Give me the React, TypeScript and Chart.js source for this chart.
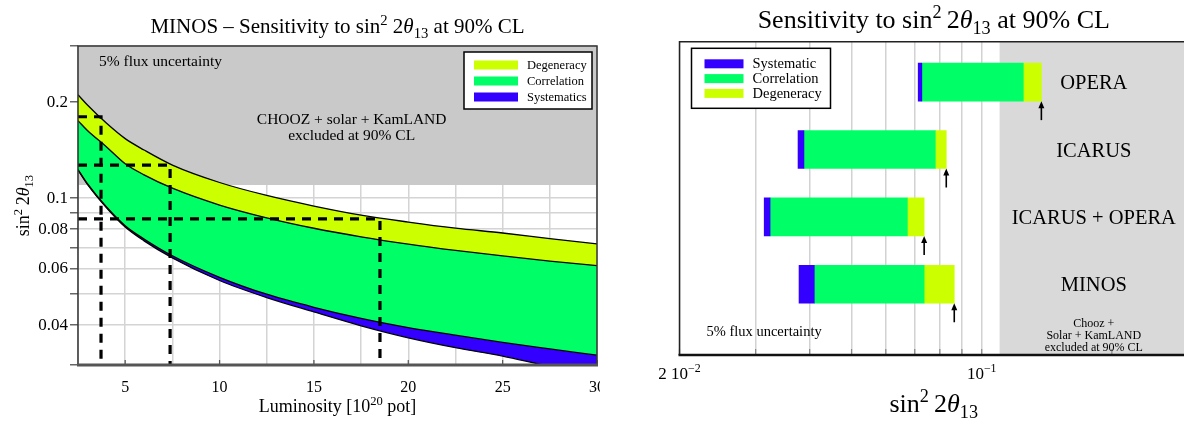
import React, { useEffect, useRef } from 'react';
import { Chart, registerables } from 'chart.js';

Chart.register(...registerables);

const SERIF = "'Liberation Serif', 'Times New Roman', 'DejaVu Serif', serif";

const COLOR_SYST = '#3300ff';
const COLOR_CORR = '#00ff66';
const COLOR_DEGEN = '#ccff00';

// ---------------- Left panel: MINOS sensitivity vs luminosity ----------------
const LUMINOSITY = [2.5, 3, 4, 5, 6, 7.5, 10, 12.5, 15, 17.5, 20, 22.5, 25, 27.5, 30];
const SYSTEMATICS_LOWER = [0.1225, 0.1105, 0.0935, 0.0812, 0.0735, 0.065, 0.0552, 0.0488, 0.044, 0.0398, 0.0365, 0.034, 0.032, 0.0297, 0.028];
const SYSTEMATICS_UPPER = [0.123, 0.111, 0.094, 0.082, 0.0745, 0.066, 0.0565, 0.05, 0.0455, 0.042, 0.0393, 0.0372, 0.0353, 0.0337, 0.0322];
const CORRELATION_UPPER = [0.175, 0.163, 0.145, 0.1282, 0.1184, 0.1075, 0.0952, 0.0868, 0.0805, 0.0757, 0.0718, 0.0686, 0.0659, 0.0635, 0.0615];
const DEGENERACY_UPPER = [0.211, 0.196, 0.172, 0.1537, 0.1416, 0.127, 0.112, 0.102, 0.0945, 0.0885, 0.0842, 0.0806, 0.0778, 0.0747, 0.0719];

const LUMI_MIN = 2.5;
const LUMI_MAX = 30;
const SENS_MIN = 0.03;
const SENS_MAX = 0.3;
const CHOOZ_LIMIT = 0.11;
const DASHED_LUMINOSITY = [3.72, 7.38, 18.5];
const DASHED_SENSITIVITY = [0.18, 0.127, 0.0861];

const LEFT_X_TICKS = [2.5, 5, 7.5, 10, 12.5, 15, 17.5, 20, 22.5, 25, 27.5, 30];
const LEFT_X_TICK_LABELS = ['', '5', '', '10', '', '15', '', '20', '', '25', '', '30'];
const LEFT_Y_TICKS = [0.03, 0.04, 0.05, 0.06, 0.07, 0.08, 0.09, 0.1, 0.2, 0.3];
const LEFT_Y_TICK_LABELS = ['', '0.04', '', '0.06', '', '0.08', '', '0.1', '0.2', ''];
const LEFT_LEGEND_LABELS = ['Degeneracy', 'Correlation', 'Systematics'];
const LEFT_LEGEND_COLORS = [COLOR_DEGEN, COLOR_CORR, COLOR_SYST];

// ---------------- Right panel: experiments comparison ----------------
const EXPERIMENTS = ['OPERA', 'ICARUS', 'ICARUS + OPERA', 'MINOS'];
const SYSTEMATIC_START = [0.0713, 0.0376, 0.0314, 0.0378];
const CORRELATION_START = [0.0727, 0.0388, 0.0324, 0.041];
const DEGENERACY_START = [0.1248, 0.0781, 0.0673, 0.0736];
const DEGENERACY_END = [0.1374, 0.0828, 0.0736, 0.0864];
const RIGHT_X_MIN = 0.02;
const RIGHT_X_MAX = 0.3;
const RIGHT_X_TICKS = [0.02, 0.03, 0.04, 0.05, 0.06, 0.07, 0.08, 0.09, 0.1, 0.2, 0.3];
const RIGHT_X_LABEL_VALUES = [0.02, 0.1];
const RIGHT_X_LABEL_MANTISSA = ['2 10', '10'];
const RIGHT_X_LABEL_EXPONENT = ['\u22122', '\u22121'];
const RIGHT_LEGEND_LABELS = ['Systematic', 'Correlation', 'Degeneracy'];
const RIGHT_LEGEND_COLORS = [COLOR_SYST, COLOR_CORR, COLOR_DEGEN];
const ROW_AXIS_MIN = 0.4;
const ROW_AXIS_MAX = 5.05;
const BAR_THICKNESS = 38;

// ---------------- rich text helper ----------------
type Seg = { t: string; s?: 'sup' | 'sub'; i?: boolean };

const LEFT_TITLE: Seg[] = [
  { t: 'MINOS \u2013 Sensitivity to sin' }, { t: '2', s: 'sup' }, { t: ' 2' }, { t: '\u03b8', i: true }, { t: '13', s: 'sub' }, { t: ' at 90% CL' },
];
const RIGHT_TITLE: Seg[] = [
  { t: 'Sensitivity to sin' }, { t: '2', s: 'sup' }, { t: '\u20092' }, { t: '\u03b8', i: true }, { t: '13', s: 'sub' }, { t: ' at 90% CL' },
];
const LEFT_X_TITLE: Seg[] = [{ t: 'Luminosity [10' }, { t: '20', s: 'sup' }, { t: ' pot]' }];
const SIN2_TITLE: Seg[] = [{ t: 'sin' }, { t: '2', s: 'sup' }, { t: '\u20092' }, { t: '\u03b8', i: true }, { t: '13', s: 'sub' }];

function drawRich(ctx: CanvasRenderingContext2D, segs: Seg[], x: number, y: number, size: number, align: 'left' | 'center' | 'right') {
  ctx.save();
  ctx.textBaseline = 'alphabetic';
  ctx.textAlign = 'left';
  ctx.fillStyle = '#000';
  const fontFor = (s: Seg) => `${s.i ? 'italic ' : ''}${s.s ? size * 0.7 : size}px ${SERIF}`;
  let total = 0;
  for (const s of segs) {
    ctx.font = fontFor(s);
    total += ctx.measureText(s.t).width;
  }
  let cx = align === 'center' ? x - total / 2 : align === 'right' ? x - total : x;
  for (const s of segs) {
    ctx.font = fontFor(s);
    const dy = s.s === 'sup' ? -size * 0.4 : s.s === 'sub' ? size * 0.22 : 0;
    ctx.fillText(s.t, cx, y + dy);
    cx += ctx.measureText(s.t).width;
  }
  ctx.restore();
}

function drawLegend(
  ctx: CanvasRenderingContext2D, left: number, top: number, w: number, h: number,
  labels: string[], colors: string[], swOff: number, swW: number, swH: number,
  firstCenter: number, step: number, textOff: number, fontSize: number,
) {
  ctx.save();
  ctx.fillStyle = '#fff';
  ctx.fillRect(left, top, w, h);
  ctx.strokeStyle = '#000';
  ctx.lineWidth = 1.5;
  ctx.strokeRect(left, top, w, h);
  ctx.font = `${fontSize}px ${SERIF}`;
  ctx.textBaseline = 'middle';
  ctx.textAlign = 'left';
  labels.forEach((lab, i) => {
    const cy = top + firstCenter + i * step;
    ctx.fillStyle = colors[i];
    ctx.fillRect(left + swOff, cy - swH / 2, swW, swH);
    ctx.fillStyle = '#000';
    ctx.fillText(lab, left + textOff, cy + 0.5);
  });
  ctx.restore();
}

function curve(values: number[]) {
  return LUMINOSITY.map((x, i) => ({ x, y: values[i] }));
}

function leftConfig(): any {
  const lineBase = { borderColor: '#000', borderWidth: 1.3, pointRadius: 0, cubicInterpolationMode: 'monotone', order: 0 };
  const leftDecor = {
    id: 'leftDecor',
    beforeDatasetsDraw(chart: any) {
      const { ctx, chartArea: a, scales } = chart;
      const yc = scales.y.getPixelForValue(CHOOZ_LIMIT);
      ctx.save();
      ctx.fillStyle = '#c9c9c9';
      ctx.fillRect(a.left, a.top, a.right - a.left, yc - a.top);
      ctx.restore();
    },
    afterDraw(chart: any) {
      const { ctx, chartArea: a, scales } = chart;
      ctx.save();
      // inner tick marks on the x axis
      ctx.strokeStyle = '#555';
      ctx.lineWidth = 1.2;
      LEFT_X_TICKS.forEach((v, i) => {
        if (!LEFT_X_TICK_LABELS[i]) return;
        const px = scales.x.getPixelForValue(v);
        ctx.beginPath();
        ctx.moveTo(px, a.bottom);
        ctx.lineTo(px, a.bottom - 5);
        ctx.stroke();
      });
      // frame
      ctx.strokeStyle = '#333';
      ctx.lineWidth = 1.5;
      ctx.strokeRect(a.left, a.top, a.right - a.left, a.bottom - a.top);
      ctx.strokeStyle = '#555';
      ctx.lineWidth = 3;
      ctx.beginPath();
      ctx.moveTo(a.left - 1, a.bottom);
      ctx.lineTo(a.right + 1, a.bottom);
      ctx.stroke();
      // texts in gray region
      ctx.fillStyle = '#000';
      ctx.textBaseline = 'alphabetic';
      ctx.font = `15.5px ${SERIF}`;
      ctx.textAlign = 'left';
      ctx.fillText('5% flux uncertainty', a.left + 21, a.top + 20);
      ctx.textAlign = 'center';
      const cx = scales.x.getPixelForValue(17.0);
      ctx.fillText('CHOOZ + solar + KamLAND', cx, a.top + 77.5);
      ctx.fillText('excluded at 90% CL', cx, a.top + 93.5);
      ctx.restore();
      drawLegend(ctx, a.right - 133, a.top + 6, 128, 57, LEFT_LEGEND_LABELS, LEFT_LEGEND_COLORS, 10, 44, 9, 13, 16, 63, 12.5);
      const mid = (a.left + a.right) / 2;
      drawRich(ctx, LEFT_TITLE, mid, 33, 21, 'center');
      drawRich(ctx, LEFT_X_TITLE, mid, 412, 18, 'center');
      ctx.save();
      ctx.translate(29, (a.top + a.bottom) / 2);
      ctx.rotate(-Math.PI / 2);
      drawRich(ctx, SIN2_TITLE, 0, 0, 18, 'center');
      ctx.restore();
    },
  };
  return {
    type: 'line',
    data: {
      datasets: [
        { label: 'Systematics lower', data: curve(SYSTEMATICS_LOWER), fill: false, ...lineBase },
        { label: 'Systematics', data: curve(SYSTEMATICS_UPPER), fill: '-1', backgroundColor: COLOR_SYST, ...lineBase },
        { label: 'Correlation', data: curve(CORRELATION_UPPER), fill: '-1', backgroundColor: COLOR_CORR, ...lineBase },
        { label: 'Degeneracy', data: curve(DEGENERACY_UPPER), fill: '-1', backgroundColor: COLOR_DEGEN, ...lineBase },
        ...DASHED_LUMINOSITY.map((L, k) => ({
          label: 'dashed' + k,
          data: [
            { x: LUMI_MIN, y: DASHED_SENSITIVITY[k] },
            { x: L, y: DASHED_SENSITIVITY[k] },
            { x: L, y: SENS_MIN },
          ],
          borderColor: '#000',
          borderWidth: 3.2,
          borderDash: [9, 7],
          pointRadius: 0,
          fill: false,
          tension: 0,
          order: -1,
        })),
      ],
    },
    options: {
      responsive: false,
      animation: false,
      events: [],
      layout: { padding: { left: 0, top: 46, right: 3, bottom: 0 } },
      plugins: { legend: { display: false }, title: { display: false }, tooltip: { enabled: false } },
      scales: {
        x: {
          type: 'linear',
          min: LUMI_MIN,
          max: LUMI_MAX,
          afterBuildTicks: (s: any) => { s.ticks = LEFT_X_TICKS.map((v) => ({ value: v })); },
          afterFit: (s: any) => { s.height = 60; s.paddingLeft = 0; s.paddingRight = 0; },
          grid: { color: '#d4d4d4', lineWidth: 1.5, drawTicks: false },
          border: { display: false },
          ticks: {
            autoSkip: false, maxRotation: 0, padding: 13, color: '#000',
            font: { family: SERIF, size: 16 },
            callback: (_v: any, i: number) => LEFT_X_TICK_LABELS[i],
          },
        },
        y: {
          type: 'logarithmic',
          min: SENS_MIN,
          max: SENS_MAX,
          afterBuildTicks: (s: any) => { s.ticks = LEFT_Y_TICKS.map((v) => ({ value: v })); },
          afterFit: (s: any) => { s.width = 78; s.paddingTop = 0; s.paddingBottom = 0; },
          grid: { color: '#d4d4d4', lineWidth: 1.5, drawTicks: true, tickLength: 8, tickColor: '#666' },
          border: { display: false },
          ticks: {
            autoSkip: false, padding: 2, color: '#000',
            font: { family: SERIF, size: 17 },
            callback: (_v: any, i: number) => LEFT_Y_TICK_LABELS[i],
          },
        },
      },
    },
    plugins: [leftDecor],
  };
}

function rightConfig(): any {
  const rightDecor = {
    id: 'rightDecor',
    beforeDatasetsDraw(chart: any) {
      const { ctx, chartArea: a, scales } = chart;
      const xc = scales.x.getPixelForValue(CHOOZ_LIMIT);
      ctx.save();
      ctx.fillStyle = '#d9d9d9';
      ctx.fillRect(xc, a.top, a.right - xc, a.bottom - a.top);
      ctx.restore();
    },
    afterDatasetsDraw(chart: any) {
      const { ctx, scales } = chart;
      ctx.save();
      ctx.strokeStyle = '#000';
      ctx.fillStyle = '#000';
      ctx.lineWidth = 1.6;
      EXPERIMENTS.forEach((_n, i) => {
        const px = scales.x.getPixelForValue(DEGENERACY_END[i]);
        const yb = scales.y.getPixelForValue(i + 1) + BAR_THICKNESS / 2;
        ctx.beginPath();
        ctx.moveTo(px, yb + 4);
        ctx.lineTo(px, yb + 19);
        ctx.stroke();
        ctx.beginPath();
        ctx.moveTo(px, yb);
        ctx.lineTo(px - 3, yb + 7);
        ctx.lineTo(px + 3, yb + 7);
        ctx.closePath();
        ctx.fill();
      });
      ctx.restore();
    },
    afterDraw(chart: any) {
      const { ctx, chartArea: a, scales } = chart;
      ctx.save();
      // inner ticks
      ctx.strokeStyle = '#888';
      ctx.lineWidth = 1.2;
      RIGHT_X_TICKS.forEach((v) => {
        const px = scales.x.getPixelForValue(v);
        ctx.beginPath();
        ctx.moveTo(px, a.bottom);
        ctx.lineTo(px, a.bottom - 6);
        ctx.stroke();
      });
      // frame
      ctx.strokeStyle = '#222';
      ctx.lineWidth = 1.5;
      ctx.beginPath();
      ctx.moveTo(a.left, a.bottom);
      ctx.lineTo(a.left, a.top);
      ctx.lineTo(a.right, a.top);
      ctx.lineTo(a.right, a.bottom);
      ctx.stroke();
      ctx.strokeStyle = '#111';
      ctx.lineWidth = 2.5;
      ctx.beginPath();
      ctx.moveTo(a.left - 1, a.bottom);
      ctx.lineTo(a.right, a.bottom);
      ctx.stroke();
      // row labels
      const xc = scales.x.getPixelForValue(CHOOZ_LIMIT);
      const gx = (xc + a.right) / 2;
      ctx.fillStyle = '#000';
      ctx.textAlign = 'center';
      ctx.textBaseline = 'alphabetic';
      ctx.font = `20.5px ${SERIF}`;
      EXPERIMENTS.forEach((name, i) => {
        ctx.fillText(name, gx, scales.y.getPixelForValue(i + 1) + 7);
      });
      ctx.font = `12px ${SERIF}`;
      ctx.fillText('Chooz +', gx, a.bottom - 28);
      ctx.fillText('Solar + KamLAND', gx, a.bottom - 16);
      ctx.fillText('excluded at 90% CL', gx, a.bottom - 4);
      ctx.textAlign = 'left';
      ctx.font = `14.5px ${SERIF}`;
      ctx.fillText('5% flux uncertainty', a.left + 27, a.bottom - 19);
      ctx.restore();
      // tick labels
      RIGHT_X_LABEL_VALUES.forEach((v, i) => {
        const px = scales.x.getPixelForValue(v);
        drawRich(ctx, [{ t: RIGHT_X_LABEL_MANTISSA[i] }, { t: RIGHT_X_LABEL_EXPONENT[i], s: 'sup' }], px, 379, 17, 'center');
      });
      drawLegend(ctx, a.left + 12, a.top + 6.6, 139, 60, RIGHT_LEGEND_LABELS, RIGHT_LEGEND_COLORS, 13, 39, 9, 15.5, 14.8, 61, 14.5);
      const mid = (a.left + a.right) / 2;
      drawRich(ctx, RIGHT_TITLE, mid, 28, 26, 'center');
      drawRich(ctx, SIN2_TITLE, mid, 412, 26, 'center');
    },
  };
  const seg = (starts: number[], ends: number[]) =>
    EXPERIMENTS.map((_n, i) => ({ y: i + 1, x: [starts[i], ends[i]] }));
  const barBase = { grouped: false, barThickness: BAR_THICKNESS, borderWidth: 0 };
  return {
    type: 'bar',
    data: {
      datasets: [
        { label: 'Systematic', data: seg(SYSTEMATIC_START, CORRELATION_START), backgroundColor: COLOR_SYST, ...barBase },
        { label: 'Correlation', data: seg(CORRELATION_START, DEGENERACY_START), backgroundColor: COLOR_CORR, ...barBase },
        { label: 'Degeneracy', data: seg(DEGENERACY_START, DEGENERACY_END), backgroundColor: COLOR_DEGEN, ...barBase },
      ],
    },
    options: {
      indexAxis: 'y',
      responsive: false,
      animation: false,
      events: [],
      layout: { padding: { left: 79.5, top: 41.7, right: 12, bottom: 0 } },
      plugins: { legend: { display: false }, title: { display: false }, tooltip: { enabled: false } },
      scales: {
        x: {
          type: 'logarithmic',
          min: RIGHT_X_MIN,
          max: RIGHT_X_MAX,
          afterBuildTicks: (s: any) => { s.ticks = RIGHT_X_TICKS.map((v) => ({ value: v })); },
          afterFit: (s: any) => { s.height = 70; s.paddingLeft = 0; s.paddingRight = 0; },
          grid: { color: '#d2d2d2', lineWidth: 1.5, drawTicks: false },
          border: { display: false },
          ticks: { display: false },
        },
        y: {
          type: 'linear',
          reverse: true,
          offset: false,
          min: ROW_AXIS_MIN,
          max: ROW_AXIS_MAX,
          display: false,
        },
      },
    },
    plugins: [rightDecor],
  };
}

export default function App() {
  const leftRef = useRef<HTMLCanvasElement>(null);
  const rightRef = useRef<HTMLCanvasElement>(null);
  useEffect(() => {
    const left = new Chart(leftRef.current as HTMLCanvasElement, leftConfig());
    const right = new Chart(rightRef.current as HTMLCanvasElement, rightConfig());
    return () => {
      left.destroy();
      right.destroy();
    };
  }, []);
  return (
    <div style={{ position: 'fixed', left: 0, top: 0, width: 1184, height: 425, overflow: 'hidden', background: '#fff' }}>
      <canvas ref={leftRef} width={600} height={425} style={{ position: 'absolute', left: 0, top: 0, width: 600, height: 425 }} />
      <canvas ref={rightRef} width={600} height={425} style={{ position: 'absolute', left: 600, top: 0, width: 600, height: 425 }} />
    </div>
  );
}
